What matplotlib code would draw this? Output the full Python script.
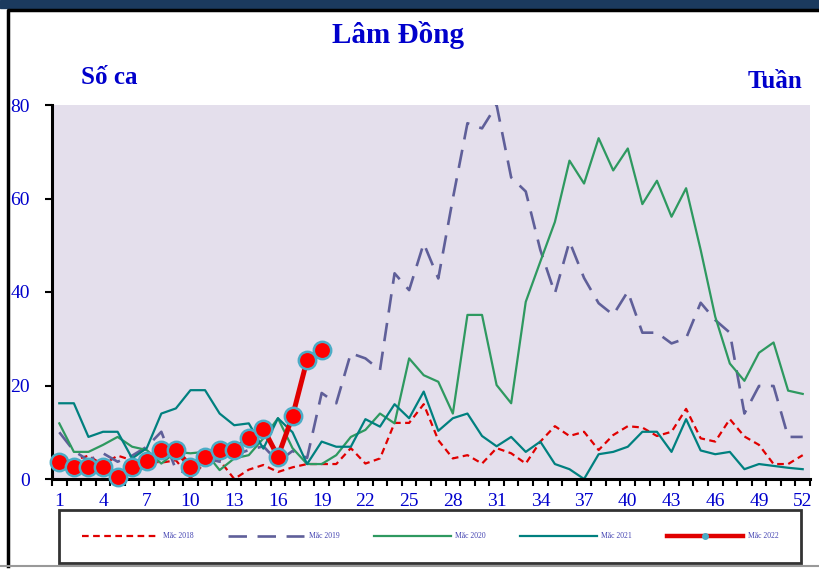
import numpy as np
import matplotlib.pyplot as plt
from matplotlib.lines import Line2D
from matplotlib.patches import Rectangle

plt.rcParams['font.family'] = ['Liberation Serif', 'DejaVu Serif']

# số liệu theo tuần
weeks = np.arange(1, 53)
y2018 = [3.5, 4, 5, 3, 5, 4, 4, 3.5, 4, 0.2, 3.5, 4, 0, 2, 3, 1.5, 2.5, 3.2, 3.2, 3.2,
         6.6, 3.3, 4.4, 12, 12, 16, 8.3, 4.4, 5.1, 3.3, 6.6, 5.5, 3.3, 8, 11.3, 9.2, 10.1,
         6.2, 9.4, 11.3, 11, 9.2, 10.1, 15, 8.7, 8, 12.8, 9.1, 7.3, 3.2, 3.2, 5.1]
y2019 = [10, 6, 4, 5.5, 3.7, 5, 6.9, 10.1, 2, 1, 4.5, 3.7, 5.1, 6.2, 7, 3.7, 6, 4.5, 18.4,
         16.2, 26.9, 25.8, 23.3, 44, 40.4, 50.4, 42.9, 60, 76.1, 75, 80, 64.5, 61.5, 49,
         39.7, 50.8, 43, 37.6, 35.1, 40.1, 31.3, 31.3, 29, 30.1, 37.7, 34, 31.3, 14, 19.9,
         19.9, 9, 9]
y2020 = [11.9, 5.8, 5.8, 7.3, 9, 6.9, 6.2, 3.3, 5.8, 5.5, 5.8, 1.9, 4.4, 5.1, 8.7, 13, 6.6,
         3.2, 3.2, 5.1, 9, 10.5, 14, 11.9, 25.8, 22.2, 20.8, 14, 35.1, 35.1, 20.1, 16.2, 37.9,
         46.5, 55, 68.1, 63.2, 72.9, 66, 70.7, 58.8, 63.8, 56.1, 62.2, 49, 34.7, 24.7, 21,
         27, 29.2, 18.9, 18.2]
y2021 = [16.2, 16.2, 9, 10.1, 10.1, 4.4, 6.6, 14, 15.1, 19, 19, 14, 11.5, 11.9, 6.5, 13, 10,
         3.2, 8, 6.9, 6.9, 12.8, 11.2, 16, 13, 18.7, 10.3, 13, 14, 9.2, 7, 9, 5.8, 8, 3.2,
         2.1, 0, 5.3, 5.8, 6.9, 10.1, 10.1, 5.8, 12.8, 6.1, 5.3, 5.8, 2.1, 3.2, 2.8, 2.4, 2.1]
y2022 = [3.7, 2.6, 2.6, 2.6, 0.5, 2.6, 3.8, 6.3, 6.3, 2.6, 4.8, 6.3, 6.3, 8.7, 10.8, 4.8,
         13.4, 25.5, 27.6]
labels = ["Mắc 2018", "Mắc 2019", "Mắc 2020", "Mắc 2021", "Mắc 2022"]

blue = '#0000cc'
fig = plt.figure(figsize=(8.2, 5.7), dpi=100)
ax = fig.add_axes([52/820, 1-479/570, 758/820, 374/570])
ax.set_facecolor('#e4dfec')

l1, = ax.plot(weeks, y2018, color='#e00000', lw=1.6, dashes=(3, 2))
l2, = ax.plot(weeks, y2019, color='#5f5f99', lw=1.9, dashes=(7, 4))
l3, = ax.plot(weeks, y2020, color='#2e9960', lw=1.6)
l4, = ax.plot(weeks, y2021, color='#00807f', lw=1.6)
l5, = ax.plot(weeks[:len(y2022)], y2022, color='#e00000', lw=3.6, marker='o',
              ms=12.5, mfc='#ff0000', mec='#4bacc6', mew=1.8, clip_on=False, zorder=5)

ax.set_xlim(0.5, 52.5)
ax.set_ylim(0, 80)
ax.set_yticks([0, 20, 40, 60, 80])
ax.set_xticks(np.r_[1:50:3, 52])
ax.set_xticks(np.arange(0.5, 53, 1), minor=True)
ax.tick_params(axis='x', which='major', length=0, pad=10, labelsize=14, labelcolor=blue)
ax.tick_params(axis='x', which='minor', length=5, width=1.5, direction='out')
ax.tick_params(axis='y', length=5, width=1.5, direction='out', pad=11,
               labelsize=14, labelcolor=blue)
for s in ['top', 'right']:
    ax.spines[s].set_visible(False)
for s in ['left', 'bottom']:
    ax.spines[s].set_linewidth(2.2)

# tiêu đề
fig.text(398/820, 1-35/570, "Lâm Đồng", ha='center', va='center', fontsize=21,
         fontweight='bold', color=blue)
fig.text(109/820, 1-77/570, "Số ca", ha='center', va='center', fontsize=18,
         fontweight='bold', color=blue)
fig.text(775/820, 1-82/570, "Tuần", ha='center', va='center', fontsize=18,
         fontweight='bold', color=blue)

# chú thích
h5 = Line2D([], [], color='#e00000', lw=3.2, marker='o', ms=4, mfc='#4bacc6',
            mec='#4bacc6')
leg = fig.legend([l1, l2, l3, l4, h5], labels, loc='center', ncol=5, mode='expand',
                 bbox_to_anchor=(55/820, 1-563/570, 750/820, 53/570), fontsize=5.5,
                 handlelength=10, handletextpad=0.6, frameon=True, fancybox=False,
                 edgecolor='black', borderpad=3.0, labelcolor='#4040b0')
leg.get_frame().set_linewidth(2)

# khung
fig.patches.append(Rectangle((0, 1-8/570), 1, 8/570, transform=fig.transFigure,
                             color='#1b3a5e', zorder=0))
fig.lines.append(Line2D([8/820, 8/820, 1], [4/570, 1-10/570, 1-10/570],
                        transform=fig.transFigure, color='black', lw=2.5))
fig.lines.append(Line2D([0, 1], [4/570, 4/570], transform=fig.transFigure,
                        color='#999999', lw=1.5))

fig.savefig('out.png', dpi=100)
